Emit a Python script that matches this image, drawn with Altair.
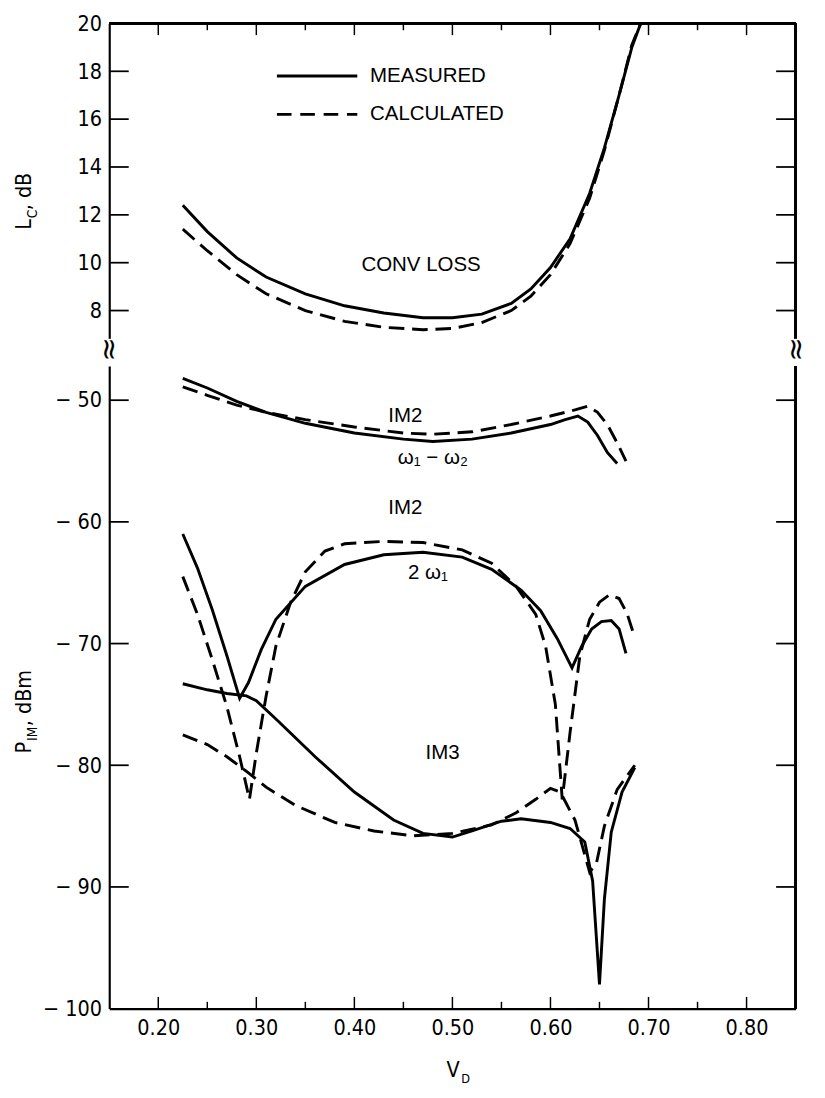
import altair as alt
import pandas as pd

# ---------------- data ----------------
# Conversion loss (upper panel), dB
conv_meas_v = [0.225, 0.25, 0.28, 0.31, 0.35, 0.39, 0.43, 0.47, 0.50, 0.53, 0.56, 0.58, 0.60, 0.62, 0.64, 0.655, 0.67, 0.683, 0.692]
conv_meas_l = [12.4, 11.3, 10.2, 9.4, 8.7, 8.2, 7.9, 7.7, 7.7, 7.85, 8.3, 8.9, 9.8, 11.0, 12.9, 14.8, 17.0, 19.0, 20.0]
conv_calc_v = [0.225, 0.25, 0.28, 0.31, 0.35, 0.39, 0.43, 0.47, 0.50, 0.53, 0.56, 0.58, 0.60, 0.62, 0.64, 0.655, 0.67, 0.683, 0.692]
conv_calc_l = [11.4, 10.5, 9.5, 8.7, 8.0, 7.55, 7.3, 7.2, 7.25, 7.5, 8.0, 8.6, 9.5, 10.8, 12.7, 14.7, 17.0, 19.1, 20.0]

# IM2 (w1 - w2), dBm
im2d_meas_v = [0.225, 0.25, 0.28, 0.31, 0.35, 0.40, 0.45, 0.48, 0.52, 0.56, 0.60, 0.615, 0.628, 0.638, 0.648, 0.658, 0.668]
im2d_meas_p = [-48.2, -49.0, -50.1, -51.0, -51.9, -52.7, -53.2, -53.4, -53.2, -52.7, -52.0, -51.6, -51.3, -51.8, -52.9, -54.3, -55.2]
im2d_calc_v = [0.225, 0.25, 0.28, 0.31, 0.35, 0.40, 0.45, 0.48, 0.52, 0.56, 0.60, 0.625, 0.638, 0.648, 0.658, 0.668, 0.677]
im2d_calc_p = [-48.9, -49.6, -50.4, -51.0, -51.6, -52.2, -52.7, -52.8, -52.6, -52.0, -51.3, -50.8, -50.5, -51.0, -52.0, -53.5, -55.0]

# IM2 (2 w1), dBm
im2s_meas_v = [0.225, 0.24, 0.255, 0.27, 0.283, 0.292, 0.305, 0.32, 0.35, 0.39, 0.43, 0.47, 0.51, 0.54, 0.57, 0.59, 0.607, 0.622, 0.632, 0.642, 0.652, 0.662, 0.67, 0.677]
im2s_meas_p = [-61.0, -63.8, -67.2, -71.0, -74.5, -73.2, -70.5, -68.0, -65.3, -63.5, -62.7, -62.5, -62.9, -63.9, -65.6, -67.3, -69.6, -72.0, -70.2, -68.8, -68.2, -68.1, -68.8, -70.8]
im2s_calc_v = [0.225, 0.24, 0.255, 0.27, 0.283, 0.293, 0.30, 0.31, 0.32, 0.335, 0.35, 0.37, 0.39, 0.43, 0.47, 0.51, 0.54, 0.565, 0.585, 0.595, 0.605, 0.612, 0.62, 0.63, 0.64, 0.65, 0.66, 0.67, 0.678, 0.684]
im2s_calc_p = [-64.5, -67.6, -71.3, -75.2, -79.3, -82.8, -79.0, -74.3, -70.2, -66.6, -64.1, -62.4, -61.8, -61.6, -61.7, -62.3, -63.4, -65.3, -67.6, -70.2, -75.0, -82.8, -77.3, -71.0, -68.0, -66.6, -66.0, -66.3, -67.5, -69.0]

# IM3, dBm
im3_meas_v = [0.225, 0.25, 0.27, 0.29, 0.30, 0.32, 0.36, 0.40, 0.44, 0.47, 0.50, 0.52, 0.55, 0.57, 0.60, 0.62, 0.635, 0.643, 0.65, 0.655, 0.662, 0.673, 0.686]
im3_meas_p = [-73.3, -73.8, -74.1, -74.3, -74.7, -76.2, -79.3, -82.2, -84.5, -85.6, -85.9, -85.4, -84.6, -84.4, -84.7, -85.2, -86.3, -89.5, -98.0, -91.0, -85.5, -82.2, -80.2]
im3_calc_v = [0.225, 0.25, 0.27, 0.29, 0.31, 0.34, 0.38, 0.42, 0.46, 0.50, 0.54, 0.565, 0.585, 0.60, 0.61, 0.625, 0.64, 0.647, 0.655, 0.668, 0.686]
im3_calc_p = [-77.5, -78.3, -79.3, -80.5, -81.8, -83.3, -84.7, -85.4, -85.8, -85.6, -84.9, -83.9, -82.8, -81.9, -82.2, -84.5, -88.8, -88.0, -85.0, -82.0, -80.0]

x_labels = [0.20, 0.30, 0.40, 0.50, 0.60, 0.70, 0.80]
x_minor = [0.25, 0.35, 0.45, 0.55, 0.65, 0.75]
top_ticks = [8, 10, 12, 14, 16, 18, 20]
bot_ticks = [-100, -90, -80, -70, -60, -50]

# ---------------- layout ----------------
W = 705
H_TOP = 335
H_BOT = 660
X_DOM = [0.15, 0.85]
TOP_DOM = [6.37, 20]
BOT_DOM = [-100, -47.2]
FONT = "DejaVu Sans Condensed, Liberation Sans, Roboto, sans-serif"
AFONT = "Liberation Sans, Arial, sans-serif"
SW = 3
DASH = [16, 8]

label_expr = "datum.value < 0 ? '\u2212 ' + abs(datum.value) : datum.value"

xs = alt.Scale(domain=X_DOM, nice=False, zero=False)
ys_top = alt.Scale(domain=TOP_DOM, nice=False, zero=False)
ys_bot = alt.Scale(domain=BOT_DOM, nice=False, zero=False)


def y_axis(values):
    return alt.Axis(values=values, labelExpr=label_expr, ticks=False, grid=False,
                    domainColor="black", domainWidth=2.2, labelFont=FONT, labelFontSize=22,
                    labelColor="black", labelPadding=8, title=None)


AX_Y_TOP = y_axis(top_ticks)
AX_Y_BOT = y_axis(bot_ticks)
AX_X_BOT = alt.Axis(values=x_labels, format=".2f", ticks=False, grid=False,
                    domainColor="black", domainWidth=2.2, labelFont=FONT, labelFontSize=22,
                    labelColor="black", labelPadding=10, title=None)


def X(ax):
    return alt.X("v:Q", scale=xs, axis=ax)


def curve_df(v, y):
    return pd.DataFrame({"v": v, "y": y})


def lines(df, ys, yax, xax, dashed):
    kw = dict(color="black", strokeWidth=SW, clip=True, strokeCap="butt")
    if dashed:
        kw["strokeDash"] = DASH
    return alt.Chart(df).mark_line(**kw).encode(
        x=X(xax),
        y=alt.Y("y:Q", scale=ys, axis=yax),
        order="v:Q",
    )


def frame_layers(ys, yax, xax, yticks, height, top_edge):
    layers = []
    tdf = pd.DataFrame({"t": yticks})
    layers.append(alt.Chart(tdf).mark_rule(color="black", strokeWidth=1.8).encode(
        y=alt.Y("t:Q", scale=ys, axis=yax), x=alt.value(0), x2=alt.value(20)))
    layers.append(alt.Chart(tdf).mark_rule(color="black", strokeWidth=1.8).encode(
        y=alt.Y("t:Q", scale=ys, axis=yax), x=alt.value(W - 20), x2=alt.value(W)))
    layers.append(alt.Chart(tdf).mark_rule(color="black", strokeWidth=2.2).encode(
        x=alt.value(W), y=alt.value(0), y2=alt.value(height)))
    mj = pd.DataFrame({"v": x_labels})
    mn = pd.DataFrame({"v": x_minor})
    if top_edge:
        layers.append(alt.Chart(tdf).mark_rule(color="black", strokeWidth=2.2).encode(
            x=alt.value(0), x2=alt.value(W), y=alt.value(0)))
        layers.append(alt.Chart(mj).mark_rule(color="black", strokeWidth=1.5).encode(
            x=X(xax), y=alt.value(0), y2=alt.value(12)))
        layers.append(alt.Chart(mn).mark_rule(color="black", strokeWidth=1.5).encode(
            x=X(xax), y=alt.value(0), y2=alt.value(7)))
    else:
        layers.append(alt.Chart(mj).mark_rule(color="black", strokeWidth=1.5).encode(
            x=X(xax), y=alt.value(height - 12), y2=alt.value(height)))
        layers.append(alt.Chart(mn).mark_rule(color="black", strokeWidth=1.5).encode(
            x=X(xax), y=alt.value(height - 7), y2=alt.value(height)))
    return layers


def txt(text, x, y, size=22, angle=0, align="left", baseline="alphabetic", font=FONT):
    kw = dict(align=align, baseline=baseline, font=font, fontSize=size, color="black")
    if angle:
        kw["angle"] = angle
    return alt.Chart(pd.DataFrame({"a": [0]})).mark_text(**kw).encode(
        x=alt.value(x), y=alt.value(y), text=alt.value(text))


def break_mark(x, y):
    gap = alt.Chart(pd.DataFrame({"a": [0]})).mark_rule(color="white", strokeWidth=8).encode(
        x=alt.value(x), y=alt.value(y - 11), y2=alt.value(y + 11))
    sym = txt("\u2248", x, y, size=30, angle=90, align="center", baseline="middle", font="DejaVu Sans")
    return [gap, sym]


def text_layer(df, ys, yax, xax, size=21, align="center"):
    return alt.Chart(df).mark_text(align=align, baseline="middle", font=AFONT,
                                   fontSize=size, color="black").encode(
        x=X(xax), y=alt.Y("y:Q", scale=ys, axis=yax), text="t:N")


# ---------------- top panel ----------------
top_layers = [
    lines(curve_df(conv_meas_v, conv_meas_l), ys_top, AX_Y_TOP, None, False),
    lines(curve_df(conv_calc_v, conv_calc_l), ys_top, AX_Y_TOP, None, True),
]
top_layers += frame_layers(ys_top, AX_Y_TOP, None, top_ticks[:-1], H_TOP, True)

# legend
leg = pd.DataFrame({"v": [0.321, 0.403], "y": [17.8, 17.8]})
leg2 = pd.DataFrame({"v": [0.321, 0.403], "y": [16.2, 16.2]})
top_layers.append(alt.Chart(leg).mark_line(color="black", strokeWidth=SW).encode(
    x=X(None), y=alt.Y("y:Q", scale=ys_top, axis=AX_Y_TOP)))
top_layers.append(alt.Chart(leg2).mark_line(color="black", strokeWidth=SW, strokeDash=[15, 9]).encode(
    x=X(None), y=alt.Y("y:Q", scale=ys_top, axis=AX_Y_TOP)))
leg_txt = pd.DataFrame({"v": [0.416, 0.416], "y": [17.8, 16.2], "t": ["MEASURED", "CALCULATED"]})
top_layers.append(text_layer(leg_txt, ys_top, AX_Y_TOP, None, 21, "left"))
ann_top = pd.DataFrame({"v": [0.468], "y": [9.9], "t": ["CONV LOSS"]})
top_layers.append(text_layer(ann_top, ys_top, AX_Y_TOP, None))
# y title L_C, dB
top_layers.append(txt("L", -80, 212, 22, 270))
top_layers.append(txt("C", -74, 200, 14, 270))
top_layers.append(txt(", dB", -80, 192, 22, 270))
# break marks
top_layers += break_mark(0, H_TOP)
top_layers += break_mark(W, H_TOP)

top = alt.layer(*top_layers).properties(width=W, height=H_TOP)

# ---------------- bottom panel ----------------
bot_layers = [
    lines(curve_df(im2d_meas_v, im2d_meas_p), ys_bot, AX_Y_BOT, AX_X_BOT, False),
    lines(curve_df(im2d_calc_v, im2d_calc_p), ys_bot, AX_Y_BOT, AX_X_BOT, True),
    lines(curve_df(im2s_meas_v, im2s_meas_p), ys_bot, AX_Y_BOT, AX_X_BOT, False),
    lines(curve_df(im2s_calc_v, im2s_calc_p), ys_bot, AX_Y_BOT, AX_X_BOT, True),
    lines(curve_df(im3_meas_v, im3_meas_p), ys_bot, AX_Y_BOT, AX_X_BOT, False),
    lines(curve_df(im3_calc_v, im3_calc_p), ys_bot, AX_Y_BOT, AX_X_BOT, True),
]
bot_layers += frame_layers(ys_bot, AX_Y_BOT, AX_X_BOT, bot_ticks[1:], H_BOT, False)

ann = pd.DataFrame({
    "v": [0.452, 0.48, 0.452, 0.475, 0.49],
    "y": [-51.3, -54.8, -58.9, -64.2, -79.0],
    "t": ["IM2", "\u03c9\u2081 \u2212 \u03c9\u2082", "IM2", "2 \u03c9\u2081", "IM3"],
})
bot_layers.append(text_layer(ann, ys_bot, AX_Y_BOT, AX_X_BOT))
# x title V_D
bot_layers.append(txt("V", W / 2 - 6, H_BOT + 70, 22))
bot_layers.append(txt("D", W / 2 + 9, H_BOT + 76, 13))
# y title P_IM, dBm
bot_layers.append(txt("P", -80, 398, 22, 270))
bot_layers.append(txt("IM", -74, 385, 14, 270))
bot_layers.append(txt(", dBm", -80, 370, 22, 270))

bottom = alt.layer(*bot_layers).properties(width=W, height=H_BOT)

chart = alt.vconcat(top, bottom, spacing=0).properties(
    padding={"left": 6, "top": -10, "right": 7, "bottom": 0},
    background="white",
).configure_view(stroke=None)

chart.save("out.html", embed_options={"renderer": "svg", "actions": False})
